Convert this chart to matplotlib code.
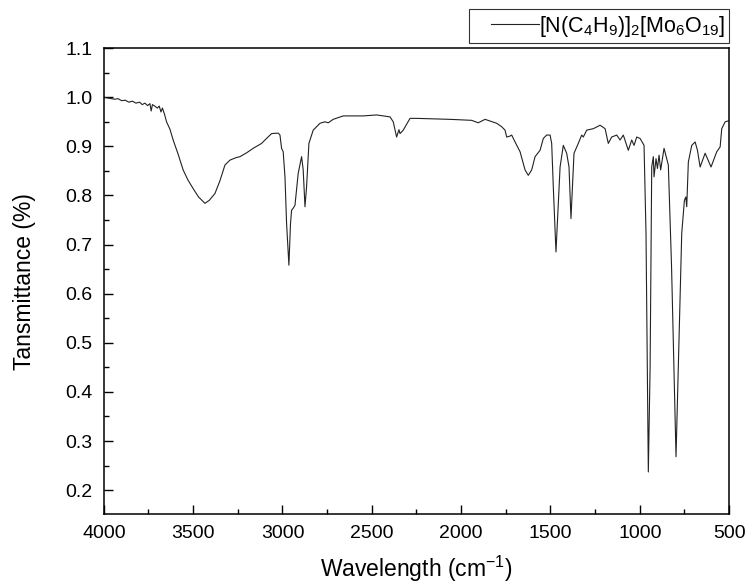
import matplotlib
matplotlib.use('Agg')
import matplotlib.pyplot as plt
from matplotlib.ticker import MultipleLocator, FormatStrFormatter
from matplotlib.legend_handler import HandlerLine2D

plt.rcParams['font.family'] = ['Liberation Sans', 'DejaVu Sans']
plt.rcParams['mathtext.fontset'] = 'custom'
plt.rcParams['mathtext.rm'] = 'Liberation Sans'
plt.rcParams['mathtext.it'] = 'Liberation Sans:italic'

# Espectro IR (numero de onda em cm-1, transmitancia)
numero_onda = [4000, 3970, 3940, 3920, 3900, 3880, 3860, 3840, 3820, 3800,
               3785, 3770, 3755, 3742, 3735, 3728, 3715, 3700, 3690, 3680,
               3672, 3660, 3649, 3630, 3612, 3585, 3556, 3530, 3500, 3470,
               3434, 3410, 3378, 3350, 3322, 3294, 3260, 3238, 3200, 3164,
               3117, 3098, 3061, 3024, 3014, 3005, 2996, 2986, 2977, 2964,
               2955, 2949, 2940, 2930, 2912, 2893, 2884, 2874, 2865, 2852,
               2828, 2790, 2762, 2744, 2716, 2660, 2548, 2473, 2398, 2380,
               2361, 2348, 2342, 2324, 2286, 2249, 2150, 2062, 1941, 1904,
               1866, 1801, 1773, 1754, 1745, 1726, 1717, 1698, 1670, 1642,
               1624, 1605, 1586, 1558, 1540, 1521, 1502, 1493, 1484, 1469,
               1456, 1446, 1428, 1409, 1396, 1385, 1375, 1368, 1344, 1325,
               1316, 1297, 1260, 1222, 1194, 1176, 1157, 1129, 1110, 1092,
               1064, 1045, 1032, 1017, 998, 976, 965, 952, 942, 933,
               924, 920, 909, 901, 892, 883, 864, 840, 822, 797,
               784, 765, 750, 742, 737, 728, 709, 690, 677, 662,
               634, 601, 569, 550, 541, 522, 503, 500]
transmitancia = [1.000, 0.998, 0.996, 0.997, 0.993, 0.994, 0.990, 0.992, 0.988, 0.990,
                 0.985, 0.988, 0.983, 0.987, 0.972, 0.985, 0.982, 0.978, 0.982, 0.970,
                 0.978, 0.965, 0.950, 0.935, 0.913, 0.885, 0.852, 0.832, 0.814, 0.797,
                 0.784, 0.790, 0.804, 0.830, 0.862, 0.872, 0.877, 0.879, 0.887, 0.896,
                 0.906, 0.913, 0.926, 0.927, 0.923, 0.896, 0.889, 0.838, 0.743, 0.658,
                 0.743, 0.770, 0.774, 0.780, 0.845, 0.879, 0.852, 0.777, 0.818, 0.906,
                 0.933, 0.947, 0.950, 0.948, 0.955, 0.962, 0.962, 0.964, 0.960, 0.950,
                 0.919, 0.934, 0.926, 0.933, 0.957, 0.957, 0.956, 0.955, 0.953, 0.948,
                 0.955, 0.947, 0.940, 0.933, 0.919, 0.921, 0.923, 0.909, 0.889, 0.852,
                 0.841, 0.852, 0.879, 0.892, 0.916, 0.923, 0.923, 0.906, 0.818, 0.685,
                 0.784, 0.858, 0.902, 0.886, 0.858, 0.753, 0.831, 0.886, 0.906, 0.923,
                 0.919, 0.933, 0.936, 0.943, 0.936, 0.906, 0.919, 0.923, 0.913, 0.923,
                 0.892, 0.913, 0.902, 0.919, 0.916, 0.902, 0.723, 0.237, 0.451, 0.858,
                 0.879, 0.838, 0.875, 0.855, 0.882, 0.852, 0.896, 0.862, 0.655, 0.268,
                 0.451, 0.723, 0.790, 0.797, 0.777, 0.868, 0.902, 0.909, 0.892, 0.858,
                 0.886, 0.858, 0.889, 0.899, 0.936, 0.950, 0.952, 0.952]

rotulo = r'[N(C$_4$H$_9$)]$_2$[Mo$_6$O$_{19}$]'

fig = plt.figure(figsize=(7.47, 5.87), dpi=100)
ax = fig.add_axes([0.139, 0.124, 0.837, 0.794])

linha, = ax.plot(numero_onda, transmitancia, color='#222222', linewidth=0.8, label=rotulo)

ax.set_xlim(4000, 500)
ax.set_ylim(0.151, 1.1)
ax.xaxis.set_major_locator(MultipleLocator(500))
ax.xaxis.set_minor_locator(MultipleLocator(250))
ax.yaxis.set_major_locator(MultipleLocator(0.1))
ax.yaxis.set_minor_locator(MultipleLocator(0.05))
ax.yaxis.set_major_formatter(FormatStrFormatter('%.1f'))

ax.tick_params(which='major', direction='in', length=6.5, width=1, labelsize=14, pad=8)
ax.tick_params(which='minor', direction='in', length=3.5, width=1)
for s in ax.spines.values():
    s.set_linewidth(1.1)

ax.set_xlabel('Wavelength (cm$^{-1}$)', fontsize=16.5, labelpad=8)
ax.set_ylabel('Tansmittance (%)', fontsize=16.5, labelpad=21)

# legenda acima do grafico, com espaco antes da linha
pad = 0.82
leg = ax.legend(handles=[linha], loc='lower right', bbox_to_anchor=(1.0, 1.011),
                borderaxespad=0, fontsize=15.5, frameon=True, fancybox=False,
                edgecolor='black', handlelength=3.87, handletextpad=-pad,
                borderpad=0.2, handler_map={linha: HandlerLine2D(marker_pad=pad, numpoints=2)})
leg.get_frame().set_linewidth(0.8)

plt.savefig('out.png', dpi=100)
